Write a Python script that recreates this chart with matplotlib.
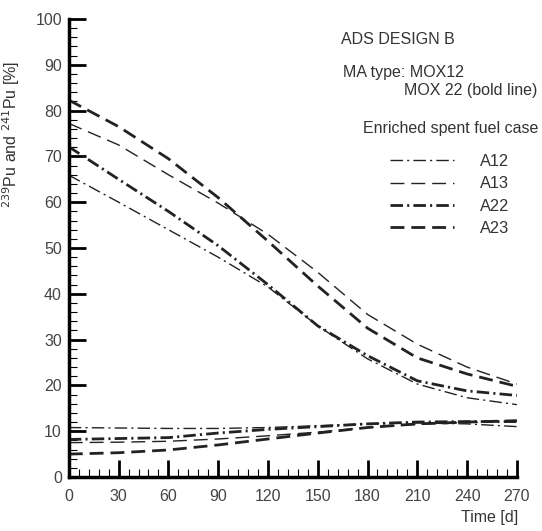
import matplotlib
matplotlib.use("Agg")
import matplotlib.pyplot as plt
from matplotlib.ticker import MultipleLocator
from matplotlib.lines import Line2D

plt.rcParams['font.family'] = ['Liberation Sans', 'DejaVu Sans']
plt.rcParams['lines.scale_dashes'] = False

days = [0, 30, 60, 90, 120, 150, 180, 210, 240, 270]

# 239Pu + 241Pu content, upper group
a12_up = [65.9, 60.0, 54.0, 48.0, 41.5, 33.0, 25.8, 20.3, 17.3, 15.8]
a13_up = [77.2, 72.5, 66.0, 59.8, 53.0, 44.7, 35.5, 29.0, 24.0, 20.3]
a22_up = [72.1, 65.0, 58.0, 50.5, 42.0, 33.0, 26.5, 21.0, 18.8, 17.8]
a23_up = [82.3, 76.5, 69.5, 61.0, 51.5, 41.7, 32.5, 26.0, 22.5, 19.8]

# lower group
a12_lo = [10.8, 10.7, 10.6, 10.6, 10.8, 11.2, 11.6, 11.8, 11.6, 11.0]
a13_lo = [7.5, 7.6, 7.8, 8.3, 9.0, 9.8, 10.8, 11.5, 11.9, 12.2]
a22_lo = [8.2, 8.4, 8.6, 9.6, 10.4, 11.0, 11.6, 12.0, 12.1, 12.1]
a23_lo = [5.0, 5.3, 5.9, 7.0, 8.3, 9.6, 10.8, 11.6, 12.0, 12.3]

labels = ["A12", "A13", "A22", "A23"]

dashdot = (0, (9, 3, 1.5, 3))
dashed = (0, (10, 5))
styles = {
    "A12": dict(ls=dashdot, lw=1.0),
    "A13": dict(ls=dashed, lw=1.0),
    "A22": dict(ls=dashdot, lw=2.0),
    "A23": dict(ls=dashed, lw=2.0),
}

fig = plt.figure(figsize=(5.42, 5.31), dpi=100)
ax = fig.add_axes([0.127, 0.1017, 0.8266, 0.8625])

series = {
    "A12": (a12_up, a12_lo),
    "A13": (a13_up, a13_lo),
    "A22": (a22_up, a22_lo),
    "A23": (a23_up, a23_lo),
}
for name, (up, lo) in series.items():
    st = styles[name]
    ax.plot(days, up, color="#222222", linestyle=st["ls"], lw=st["lw"])
    ax.plot(days, lo, color="#222222", linestyle=st["ls"], lw=st["lw"])

ax.set_xlim(0, 270)
ax.set_ylim(0, 100)
ax.xaxis.set_major_locator(MultipleLocator(30))
ax.xaxis.set_minor_locator(MultipleLocator(6))
ax.yaxis.set_major_locator(MultipleLocator(10))
ax.yaxis.set_minor_locator(MultipleLocator(2))
ax.tick_params(which="major", direction="in", length=12, width=2,
               labelsize=11.5, labelcolor="#444444", pad=5)
ax.tick_params(which="minor", direction="in", length=6, width=0.8)
ax.tick_params(axis="x", which="major", pad=9)

for s in ["top", "right"]:
    ax.spines[s].set_visible(False)
for s in ["left", "bottom"]:
    ax.spines[s].set_linewidth(2.5)

ax.set_ylabel(r"$^{239}$Pu and $^{241}$Pu [%]", fontsize=11.5, color="#333333")
ax.yaxis.set_label_coords(-0.105, 0.747)
ax.set_xlabel("Time [d]", fontsize=11.5, color="#333333")
ax.xaxis.set_label_coords(0.94, -0.072)

W, H = 542.0, 531.0
txt = dict(fontsize=11.5, color="#333333", va="center", ha="left")
fig.text(341 / W, 1 - 40 / H, "ADS DESIGN B", **txt)
fig.text(343 / W, 1 - 72 / H, "MA type: MOX12", **txt)
fig.text(404 / W, 1 - 90 / H, "MOX 22 (bold line)", **txt)
fig.text(363 / W, 1 - 128 / H, "Enriched spent fuel case", **txt)

handles = [Line2D([], [], color="#222222", linestyle=styles[n]["ls"],
                  lw=styles[n]["lw"]) for n in labels]
fig.legend(handles, labels, loc="upper left",
           bbox_to_anchor=(390 / W, 1 - 154 / H), bbox_transform=fig.transFigure,
           frameon=False, fontsize=11.8, handlelength=3.9, handletextpad=1.6,
           labelspacing=0.45, borderpad=0, borderaxespad=0, labelcolor="#333333")

fig.savefig("out.png", dpi=100)
